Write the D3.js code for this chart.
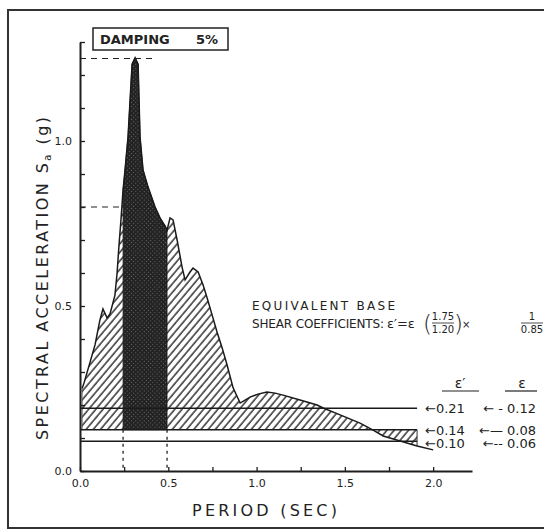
<!DOCTYPE html>
<html>
<head>
<meta charset="utf-8">
<script src="https://cdn.jsdelivr.net/npm/d3@7/dist/d3.min.js"></script>
<style>
  body { margin: 0; background: #fff; }
  text { font-family: "DejaVu Sans", sans-serif; fill: #222; }
</style>
</head>
<body>
<div id="chart"></div>
<script>
// spectrum: period (sec) and spectral acceleration (g)
var periods = [0.012, 0.023, 0.057, 0.085, 0.113, 0.130, 0.153, 0.170, 0.198, 0.210,
  0.221, 0.232, 0.244, 0.255, 0.272, 0.295, 0.312, 0.329, 0.340, 0.357,
  0.385, 0.425, 0.453, 0.482, 0.493, 0.510, 0.527, 0.550, 0.578, 0.595,
  0.623, 0.640, 0.669, 0.697, 0.720, 0.748, 0.776, 0.805, 0.833, 0.867,
  0.907, 0.935, 0.963, 1.008, 1.059, 1.105, 1.150, 1.246, 1.343, 1.377,
  1.473, 1.586, 1.660, 1.717, 1.813, 1.909, 2.000];
var accel = [0.25, 0.267, 0.330, 0.382, 0.458, 0.491, 0.464, 0.476, 0.533, 0.600,
  0.685, 0.761, 0.852, 0.912, 1.012, 1.233, 1.252, 1.233, 1.012, 0.912,
  0.861, 0.800, 0.767, 0.742, 0.730, 0.767, 0.761, 0.700, 0.618, 0.579,
  0.603, 0.615, 0.603, 0.564, 0.524, 0.473, 0.421, 0.373, 0.321, 0.252,
  0.206, 0.215, 0.224, 0.233, 0.239, 0.236, 0.230, 0.215, 0.200, 0.191,
  0.170, 0.145, 0.124, 0.106, 0.091, 0.076, 0.064];

// band of periods shaded dark, and the hatched reference level
var bandPeriods = [0.244, 0.493];
var hatchLevel = 0.125;
var hatchEnd = 1.909;

// base shear coefficient lines (position on the chart) and their labels
var coefLevels = [0.19, 0.125, 0.09];
var epsPrimeLabels = ["0.21", "0.14", "0.10"];
var epsLabels = ["0.12", "0.08", "0.06"];
var epsArrows = ["\u2190 - ", "\u2190\u2014 ", "\u2190-- "];

// dashed reference levels
var dashLevels = [1.25, 0.8];
var dashEnds = [0.41, 0.385];

// ticks
var xTicks = [0, 0.25, 0.5, 0.75, 1.0, 1.25, 1.5, 1.75, 2.0];
var xTickLabels = ["0.0", "0.5", "1.0", "1.5", "2.0"];
var xLabelVals = [0, 0.5, 1.0, 1.5, 2.0];
var yTicks = [0, 0.1, 0.2, 0.3, 0.4, 0.5, 0.6, 0.7, 0.8, 0.9, 1.0, 1.1, 1.2, 1.3];
var yTickLabels = ["0.0", "0.5", "1.0"];
var yLabelVals = [0, 0.5, 1.0];

var svgWidth = 544;
var svgHeight = 531;

var svg = d3.select("#chart")
  .append("svg")
  .attr("width", svgWidth)
  .attr("height", svgHeight);

var xScale = d3.scaleLinear().domain([0, 2.22]).range([80, 472]);
var yScale = d3.scaleLinear().domain([0, 1.3]).range([471, 42]);

var data = periods.map(function(p, i) { return { t: p, s: accel[i] }; });

// patterns
var defs = svg.append("defs");
var hatch = defs.append("pattern")
  .attr("id", "hatch")
  .attr("patternUnits", "userSpaceOnUse")
  .attr("width", 5.5).attr("height", 6)
  .attr("patternTransform", "rotate(40)");
hatch.append("line")
  .attr("x1", 1).attr("y1", 0).attr("x2", 1).attr("y2", 6)
  .attr("stroke", "#151515").attr("stroke-width", 1.3);

var dark = defs.append("pattern")
  .attr("id", "dark")
  .attr("patternUnits", "userSpaceOnUse")
  .attr("width", 3).attr("height", 3)
  .attr("patternTransform", "rotate(45)");
dark.append("rect").attr("width", 3).attr("height", 3).attr("fill", "#232323");
dark.append("rect").attr("width", 1).attr("height", 1).attr("fill", "#666");

// outer frame
svg.append("rect")
  .attr("x", 8).attr("y", 10)
  .attr("width", 560).attr("height", 518)
  .attr("fill", "none")
  .attr("stroke", "#333")
  .attr("stroke-width", 2);

// hatched area between the spectrum and the reference level
var area = d3.area()
  .x(d => xScale(d.t))
  .y0(yScale(hatchLevel))
  .y1(d => yScale(d.s));

svg.append("path")
  .datum(data.filter(d => d.t <= hatchEnd))
  .attr("d", area)
  .attr("fill", "url(#hatch)")
  .attr("stroke", "none");

// dark band
svg.append("path")
  .datum(data.filter(d => d.t >= bandPeriods[0] && d.t <= bandPeriods[1]))
  .attr("d", area)
  .attr("fill", "url(#dark)")
  .attr("stroke", "#1a1a1a")
  .attr("stroke-width", 0.8);

// spectrum outline
svg.append("path")
  .datum(data)
  .attr("d", d3.line().x(d => xScale(d.t)).y(d => yScale(d.s)))
  .attr("fill", "none")
  .attr("stroke", "#1a1a1a")
  .attr("stroke-width", 1.5);

// left edge of hatched area
svg.append("line")
  .attr("x1", xScale(periods[0])).attr("x2", xScale(periods[0]))
  .attr("y1", yScale(accel[0])).attr("y2", yScale(hatchLevel))
  .attr("stroke", "#444").attr("stroke-width", 0.8);

// right edge of hatched tail
svg.append("line")
  .attr("x1", xScale(hatchEnd)).attr("x2", xScale(hatchEnd))
  .attr("y1", yScale(hatchLevel)).attr("y2", yScale(accel[periods.indexOf(hatchEnd)]))
  .attr("stroke", "#333").attr("stroke-width", 1);

// coefficient lines
svg.selectAll(".coef")
  .data(coefLevels)
  .enter()
  .append("line")
  .attr("class", "coef")
  .attr("x1", xScale(0)).attr("x2", xScale(hatchEnd))
  .attr("y1", d => yScale(d)).attr("y2", d => yScale(d))
  .attr("stroke", "#1a1a1a")
  .attr("stroke-width", 1.4);

// dashed horizontal levels
svg.selectAll(".dashh")
  .data(dashLevels)
  .enter()
  .append("line")
  .attr("class", "dashh")
  .attr("x1", xScale(0)).attr("x2", (d, i) => xScale(dashEnds[i]))
  .attr("y1", d => yScale(d)).attr("y2", d => yScale(d))
  .attr("stroke", "#222")
  .attr("stroke-width", 1.1)
  .attr("stroke-dasharray", "6,5");

// dashed verticals at band edges
svg.selectAll(".dashv")
  .data(bandPeriods)
  .enter()
  .append("line")
  .attr("class", "dashv")
  .attr("x1", d => xScale(d)).attr("x2", d => xScale(d))
  .attr("y1", yScale(hatchLevel)).attr("y2", yScale(0))
  .attr("stroke", "#222")
  .attr("stroke-width", 1.3)
  .attr("stroke-dasharray", "3,4");

// axes
var xAxis = d3.axisBottom(xScale)
  .tickValues(xTicks)
  .tickSizeInner(-4)
  .tickSizeOuter(0)
  .tickPadding(8)
  .tickFormat(function(d) {
    var i = xLabelVals.indexOf(d);
    return i >= 0 ? xTickLabels[i] : "";
  });

var yAxis = d3.axisLeft(yScale)
  .tickValues(yTicks)
  .tickSizeInner(-5)
  .tickSizeOuter(0)
  .tickPadding(8)
  .tickFormat(function(d) {
    var i = yLabelVals.indexOf(d);
    return i >= 0 ? yTickLabels[i] : "";
  });

var gx = svg.append("g")
  .attr("transform", `translate(0, ${yScale(0)})`)
  .call(xAxis);
var gy = svg.append("g")
  .attr("transform", `translate(${xScale(0)}, 0)`)
  .call(yAxis);

[gx, gy].forEach(function(g) {
  g.select(".domain").attr("stroke", "#1e1e1e").attr("stroke-width", 2);
  g.selectAll(".tick line").attr("stroke", "#1e1e1e").attr("stroke-width", 1.3);
  g.selectAll(".tick text")
    .attr("font-family", "DejaVu Sans Condensed, DejaVu Sans, sans-serif")
    .attr("font-size", 11)
    .attr("fill", "#222");
});

// axis titles
var yTitle = svg.append("text")
  .attr("transform", "translate(48, 440) rotate(-90)")
  .attr("font-size", 16)
  .attr("textLength", 323)
  .attr("lengthAdjust", "spacing");
yTitle.append("tspan").text("SPECTRAL  ACCELERATION  S");
yTitle.append("tspan").attr("font-size", 10).attr("dy", 3).text("a");
yTitle.append("tspan").attr("dy", -3).text("  (g)");

svg.append("text")
  .attr("x", 192)
  .attr("y", 516)
  .attr("font-size", 16)
  .attr("textLength", 145)
  .attr("lengthAdjust", "spacing")
  .text("PERIOD (SEC)");

// damping box
svg.append("rect")
  .attr("x", 93).attr("y", 28)
  .attr("width", 135).attr("height", 22)
  .attr("fill", "#fff")
  .attr("stroke", "#222")
  .attr("stroke-width", 1.5);
svg.append("text")
  .attr("x", 100).attr("y", 44)
  .attr("font-size", 13)
  .attr("font-weight", "bold")
  .text("DAMPING");
svg.append("text")
  .attr("x", 218).attr("y", 44)
  .attr("font-size", 13)
  .attr("font-weight", "bold")
  .attr("text-anchor", "end")
  .text("5%");

// equivalent base shear note
svg.append("text")
  .attr("x", 252).attr("y", 310)
  .attr("font-size", 12)
  .attr("textLength", 143)
  .attr("lengthAdjust", "spacing")
  .text("EQUIVALENT  BASE");
svg.append("text")
  .attr("x", 252).attr("y", 328)
  .attr("font-size", 12)
  .attr("textLength", 132)
  .attr("lengthAdjust", "spacing")
  .text("SHEAR COEFFICIENTS:");
svg.append("text")
  .attr("x", 387).attr("y", 328)
  .attr("font-size", 13)
  .text("\u03b5\u2032=\u03b5");
svg.append("text")
  .attr("x", 423).attr("y", 332)
  .attr("font-size", 23)
  .attr("font-weight", "200")
  .text("(");
svg.append("text")
  .attr("x", 454).attr("y", 332)
  .attr("font-size", 23)
  .attr("font-weight", "200")
  .text(")");

function fraction(cx, num, den) {
  svg.append("text").attr("x", cx).attr("y", 320).attr("font-size", 10)
    .attr("text-anchor", "middle").text(num);
  svg.append("line").attr("x1", cx - 11).attr("x2", cx + 11)
    .attr("y1", 323).attr("y2", 323).attr("stroke", "#222").attr("stroke-width", 0.8);
  svg.append("text").attr("x", cx).attr("y", 333).attr("font-size", 10)
    .attr("text-anchor", "middle").text(den);
}
fraction(443, "1.75", "1.20");
svg.append("text").attr("x", 462).attr("y", 328).attr("font-size", 10).text("\u00d7");
fraction(532, "1", "0.85");

// epsilon column headers
svg.append("text").attr("x", 460).attr("y", 388).attr("font-size", 14)
  .attr("text-anchor", "middle").text("\u03b5\u2032");
svg.append("line").attr("x1", 442).attr("x2", 479).attr("y1", 391).attr("y2", 391)
  .attr("stroke", "#222").attr("stroke-width", 1.2);
svg.append("text").attr("x", 522).attr("y", 388).attr("font-size", 14)
  .attr("text-anchor", "middle").text("\u03b5");
svg.append("line").attr("x1", 505).attr("x2", 537).attr("y1", 391).attr("y2", 391)
  .attr("stroke", "#222").attr("stroke-width", 1.2);

// coefficient labels
svg.selectAll(".eprime")
  .data(coefLevels)
  .enter()
  .append("text")
  .attr("class", "eprime")
  .attr("x", 425)
  .attr("y", (d, i) => yScale(d) + [5, 5, 7][i])
  .attr("font-size", 13)
  .text((d, i) => "\u2190" + epsPrimeLabels[i]);

svg.selectAll(".eps")
  .data(coefLevels)
  .enter()
  .append("text")
  .attr("class", "eps")
  .attr("x", 536)
  .attr("y", (d, i) => yScale(d) + [5, 5, 7][i])
  .attr("font-size", 13)
  .attr("text-anchor", "end")
  .text((d, i) => epsArrows[i] + epsLabels[i]);
</script>
</body>
</html>
